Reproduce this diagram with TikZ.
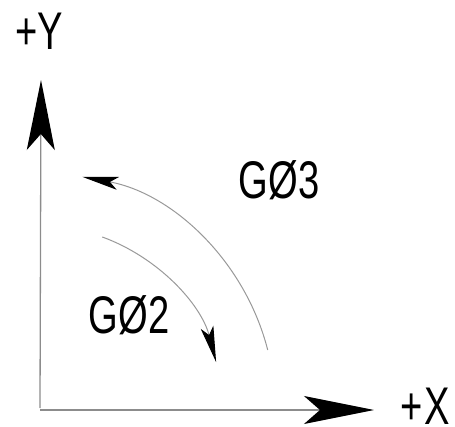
\documentclass[tikz,border=0pt]{standalone}
\usepackage{fontspec}
\setmainfont{Liberation Sans}[FakeStretch=0.72]
\usetikzlibrary{arrows.meta}
\tikzset{
  axis/.style={draw=black!45, line width=1.3pt},
  arcline/.style={draw=black!40, line width=1pt},
  bigtip/.style={-{Stealth[length=70pt,width=28pt,inset=16pt,black]}},
  smalltip/.style={-{Stealth[length=36pt,width=13pt,inset=8pt,black]}},
  lbl/.style={font=\fontsize{53}{53}\selectfont, inner sep=0pt, text=black}
}
\begin{document}
\begin{tikzpicture}[x=1pt,y=1pt]
\useasboundingbox (0,0) rectangle (455,-427);
\coordinate (O) at (40,-408);
\coordinate (ytip) at (41,-80);
\coordinate (xtip) at (374,-410);
\draw[axis,bigtip] (O) -- (ytip);
\draw[axis,bigtip] (40,-410) -- (xtip);
\node[lbl] (ylab) at (39,-31) {+Y};
\node[lbl] (xlab) at (425,-406) {+\kern2pt X};
\node[lbl] (g03) at (279,-180) {GØ3};
\node[lbl] (g02) at (129,-315) {GØ2};
\draw[arcline,smalltip] (O) ++(14.3:235) arc[start angle=14.3,end angle=79.6,radius=235];
\draw[arcline,smalltip] (O) ++(70:182) arc[start angle=70,end angle=14.6,radius=182];
\end{tikzpicture}
\end{document}
